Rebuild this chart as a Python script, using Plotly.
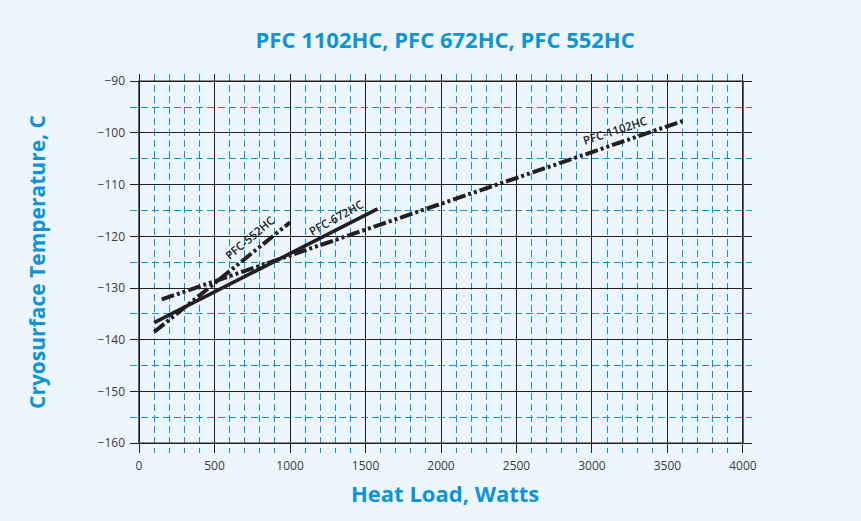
import plotly.graph_objects as go

# ---- data ----
x_1102 = [150, 3600]
y_1102 = [-132.2, -97.7]
x_672 = [100, 1580]
y_672 = [-136.7, -114.7]
x_552 = [100, 1000]
y_552 = [-138.5, -117.3]

label_names = ["PFC-1102HC", "PFC-672HC", "PFC-552HC"]
label_x = [3150, 1305, 735]
label_y = [-99.6, -116.3, -120.3]
label_angle = [-18, -29, -40]

x_ticks = [0, 500, 1000, 1500, 2000, 2500, 3000, 3500, 4000]
y_ticks = [-160, -150, -140, -130, -120, -110, -100, -90]

title_text = "PFC 1102HC, PFC 672HC, PFC 552HC"
x_title = "Heat Load, Watts"
y_title = "Cryosurface Temperature, C"

BG = "#eef6fd"
BLUE = "#0d93d8"
INK = "#231f20"
FONT = "Open Sans, Noto Sans, sans-serif"

fig = go.Figure()

ddot = "13px,3px,3px,3px,3px,3px"
fig.add_trace(go.Scatter(x=x_1102, y=y_1102, mode="lines",
                         line=dict(color=INK, width=4, dash=ddot), hoverinfo="skip"))
fig.add_trace(go.Scatter(x=x_672, y=y_672, mode="lines",
                         line=dict(color=INK, width=3.6), hoverinfo="skip"))
fig.add_trace(go.Scatter(x=x_552, y=y_552, mode="lines",
                         line=dict(color=INK, width=4, dash=ddot), hoverinfo="skip"))

for name, lx, ly, ang in zip(label_names, label_x, label_y, label_angle):
    fig.add_annotation(x=lx, y=ly, text=name, showarrow=False, textangle=ang,
                       font=dict(family=FONT, size=11.5, color=INK, weight=600))

# frame
fig.add_shape(type="rect", x0=0, x1=4000, y0=-160, y1=-90,
              line=dict(color=INK, width=1.5), layer="above")

fig.add_annotation(xref="paper", yref="paper", x=0.506, y=-0.1055,
                   xanchor="center", yanchor="middle",
                   text=f"<b>{x_title}</b>", showarrow=False,
                   font=dict(family=FONT, size=22, color=BLUE))
fig.add_annotation(xref="paper", yref="paper", x=-0.1495, y=0.504,
                   xanchor="center", yanchor="middle",
                   text=f"<b>{y_title}</b>", showarrow=False, textangle=-90,
                   font=dict(family=FONT, size=21, color=BLUE))

fig.update_layout(
    width=861, height=521,
    paper_bgcolor=BG, plot_bgcolor=BG,
    margin=dict(l=130, r=109, t=74, b=68),
    showlegend=False,
    title=dict(text=f"<b>{title_text}</b>", x=0.517, y=0.923,
               xanchor="center", yanchor="middle",
               font=dict(family=FONT, size=22, color=BLUE)),
    xaxis=dict(range=[-60, 4060], tickvals=x_ticks, showgrid=True,
               gridcolor=INK, gridwidth=1.2, zeroline=False, showline=False,
               ticks="", ticklabelstandoff=4,
               tickfont=dict(family=FONT, size=12, color="#3a3a3a"),
               minor=dict(dtick=100, tick0=0, showgrid=True, gridcolor=BLUE,
                          gridwidth=1, griddash="7px,4px")),
    yaxis=dict(range=[-161.9, -88.6], tickvals=y_ticks, showgrid=True,
               gridcolor=INK, gridwidth=1.2, zeroline=False, showline=False,
               ticks="", ticklabelstandoff=4,
               tickfont=dict(family=FONT, size=12, color="#3a3a3a"),
               minor=dict(dtick=5, tick0=-160, showgrid=True, gridcolor=BLUE,
                          gridwidth=1, griddash="7px,4px")),
)

fig.write_html("out.html", config={"displayModeBar": False},
               post_script="document.body.style.margin='0';document.body.style.background='" + BG + "';")
